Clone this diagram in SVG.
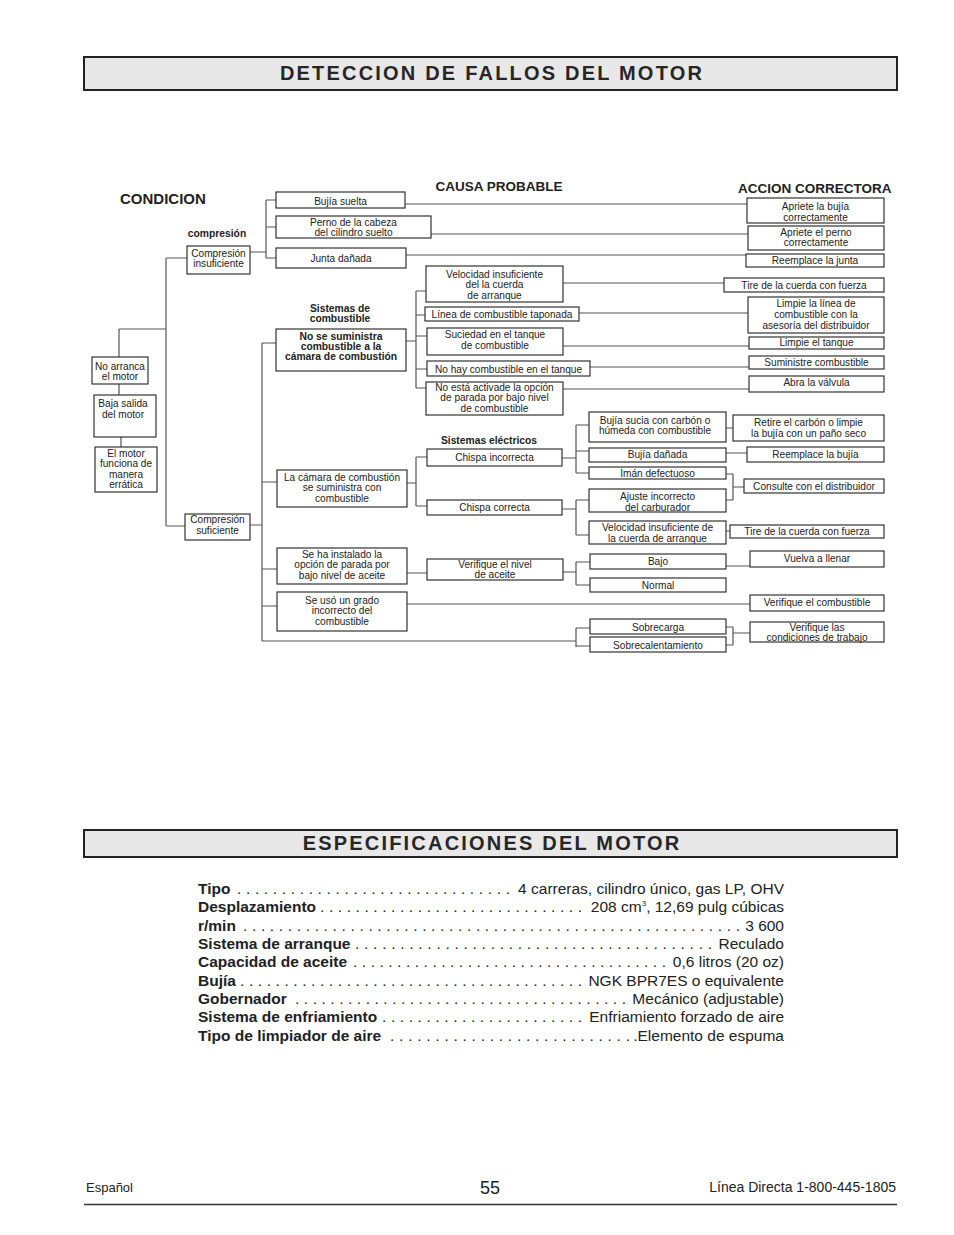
<svg xmlns="http://www.w3.org/2000/svg" width="954" height="1235" viewBox="0 0 954 1235">
<style>
.bx{fill:#fff;stroke:#333;stroke-width:1.2}
.t{font-family:"Liberation Sans",Arial,sans-serif;font-size:10.1px;fill:#222;text-anchor:middle}
.tb{font-family:"Liberation Sans",Arial,sans-serif;font-size:10.3px;font-weight:bold;fill:#222;text-anchor:middle}
.hd{font-family:"Liberation Sans",Arial,sans-serif;font-weight:bold;fill:#222}
.ttl{font-family:"Liberation Sans",Arial,sans-serif;font-size:20px;font-weight:bold;fill:#262626;text-anchor:middle;letter-spacing:2.2px}
.hbox{fill:#e8e8e8;stroke:#222;stroke-width:2}
.sl{font-family:"Liberation Sans",Arial,sans-serif;font-size:15.5px;font-weight:bold;fill:#222}
.sd{font-family:"Liberation Sans",Arial,sans-serif;font-size:15.5px;fill:#222}
.sv{font-family:"Liberation Sans",Arial,sans-serif;font-size:15.5px;fill:#222;text-anchor:end}
.ft{font-family:"Liberation Sans",Arial,sans-serif;fill:#222}
.cn{fill:none;stroke:#555;stroke-width:1.2}
</style>
<rect width="954" height="1235" fill="#fff"/>

<g id="header1">
<rect class="hbox" x="84" y="57" width="813" height="33"/>
<text class="ttl" x="492" y="80">DETECCION DE FALLOS DEL MOTOR</text>
</g>

<g id="column-heads">
<text class="hd" x="120" y="204" font-size="15">CONDICION</text>
<text class="hd" x="499" y="190.5" font-size="13.5" text-anchor="middle">CAUSA PROBABLE</text>
<text class="hd" x="738" y="192.5" font-size="13.5">ACCION CORRECTORA</text>
<text class="tb" x="217" y="236.5">compresión</text>
<text class="tb" x="340" y="311.5">Sistemas de</text>
<text class="tb" x="340" y="322">combustible</text>
<text class="tb" x="489" y="443.5">Sistemas eléctricos</text>
</g>

<g id="connectors" class="cn">
<path d="M166 258V526M166 258H187M166 526H185M119 329H166M119 329V357M119 384V395M121 437V447"/>
<path d="M250 252H266M266 200V258M266 200H276M266 227H276M266 258H276"/>
<path d="M405 204H747M431 234H748M406 255H746"/>
<path d="M250 525H262M262 343V641M262 343H276M262 482H277M262 569H277M262 606H277M262 641H576"/>
<path d="M406 341H416M416 291V388M416 291H426M416 315H425M416 336H427M416 369H427M416 388H426"/>
<path d="M563 283H724M579 313H748M563 346H749M590 367H749M563 389H749"/>
<path d="M407 483H416M416 457V506M416 457H427M416 506H427"/>
<path d="M562 458H576M576 425V473M576 425H589M576 451H589M576 473H589"/>
<path d="M726 428H733M726 453H747M726 474H733M726 500H733M733 474V500M733 487H744"/>
<path d="M562 509H576M576 500V535M576 500H589M576 535H589M726 531H730"/>
<path d="M407 573H427M563 572H576M576 562V585M576 562H590M576 585H590M726 566H750"/>
<path d="M407 604H750"/>
<path d="M576 628V647M576 628H590M576 646H590M726 627H733M726 645H733M733 627V645M733 633H750"/>
</g>

<g id="n-noarranca"><rect class="bx" x="92" y="357" width="56" height="27"/><text class="t" x="120" y="369.5">No arranca</text><text class="t" x="120" y="380">el motor</text></g>
<g id="n-bajasalida"><rect class="bx" x="94" y="395" width="62" height="42"/><text class="t" x="123" y="407">Baja salida</text><text class="t" x="123" y="417.5">del motor</text></g>
<g id="n-erratica"><rect class="bx" x="95" y="447" width="62" height="45"/><text class="t" x="126" y="456.5">El motor</text><text class="t" x="126" y="467">funciona de</text><text class="t" x="126" y="477.5">manera</text><text class="t" x="126" y="488">errática</text></g>
<g id="n-compinsuf"><rect class="bx" x="187" y="246" width="63" height="28"/><text class="t" x="218.5" y="256.5">Compresión</text><text class="t" x="218.5" y="267">insuficiente</text></g>
<g id="n-compsuf"><rect class="bx" x="185" y="514" width="65" height="26"/><text class="t" x="217.5" y="523">Compresión</text><text class="t" x="217.5" y="533.5">suficiente</text></g>

<g id="n-bujiasuelta"><rect class="bx" x="276" y="192" width="129" height="16"/><text class="t" x="340.5" y="204.5">Bujía suelta</text></g>
<g id="n-perno"><rect class="bx" x="276" y="216" width="155" height="22"/><text class="t" x="353.5" y="225.5">Perno de la cabeza</text><text class="t" x="353.5" y="235.5">del cilindro suelto</text></g>
<g id="n-junta"><rect class="bx" x="276" y="248" width="130" height="20"/><text class="t" x="341" y="261.5">Junta dañada</text></g>
<g id="n-nosumin"><rect class="bx" x="276" y="329" width="130" height="42"/><text class="tb" x="341" y="339.5">No se suministra</text><text class="tb" x="341" y="349.5">combustible a la</text><text class="tb" x="341" y="360">cámara de combustión</text></g>
<g id="n-lacamara"><rect class="bx" x="277" y="470" width="130" height="37"/><text class="t" x="342" y="480.5">La cámara de combustión</text><text class="t" x="342" y="491">se suministra con</text><text class="t" x="342" y="501.5">combustible</text></g>
<g id="n-sehainst"><rect class="bx" x="277" y="548" width="130" height="36"/><text class="t" x="342" y="557.5">Se ha instalado la</text><text class="t" x="342" y="568">opción de parada por</text><text class="t" x="342" y="578.5">bajo nivel de aceite</text></g>
<g id="n-seuso"><rect class="bx" x="277" y="592" width="130" height="39"/><text class="t" x="342" y="603.5">Se usó un grado</text><text class="t" x="342" y="614">incorrecto del</text><text class="t" x="342" y="624.5">combustible</text></g>

<g id="n-velocidad1"><rect class="bx" x="426" y="266" width="137" height="36"/><text class="t" x="494.5" y="277.5">Velocidad insuficiente</text><text class="t" x="494.5" y="288">del la cuerda</text><text class="t" x="494.5" y="298.5">de arranque</text></g>
<g id="n-linea"><rect class="bx" x="425" y="307" width="154" height="14"/><text class="t" x="502" y="317.5">Línea de combustible taponada</text></g>
<g id="n-suciedad"><rect class="bx" x="427" y="328" width="136" height="27"/><text class="t" x="495" y="338">Suciedad en el tanque</text><text class="t" x="495" y="348.5">de combustible</text></g>
<g id="n-nohay"><rect class="bx" x="427" y="361" width="163" height="15"/><text class="t" x="508.5" y="372.5">No hay combustible en el tanque</text></g>
<g id="n-noesta"><rect class="bx" x="426" y="382" width="137" height="33"/><text class="t" x="494.5" y="390.5">No está activade la opción</text><text class="t" x="494.5" y="401">de parada por bajo nivel</text><text class="t" x="494.5" y="411.5">de combustible</text></g>
<g id="n-chispainc"><rect class="bx" x="427" y="449" width="135" height="17"/><text class="t" x="494.5" y="461">Chispa incorrecta</text></g>
<g id="n-chispacor"><rect class="bx" x="427" y="500" width="135" height="15"/><text class="t" x="494.5" y="511">Chispa correcta</text></g>
<g id="n-verifnivel"><rect class="bx" x="427" y="559" width="136" height="21"/><text class="t" x="495" y="567.5">Verifique el nivel</text><text class="t" x="495" y="578">de aceite</text></g>

<g id="n-bujiasucia"><rect class="bx" x="589" y="412" width="137" height="30"/><text class="t" x="655" y="423.5">Bujía sucia con carbón o</text><text class="t" x="655" y="434">húmeda con combustible</text></g>
<g id="n-bujiadan"><rect class="bx" x="589" y="448" width="137" height="14"/><text class="t" x="657.5" y="457.5">Bujía dañada</text></g>
<g id="n-iman"><rect class="bx" x="589" y="467" width="137" height="12"/><text class="t" x="657.5" y="476.5">Imán defectuoso</text></g>
<g id="n-ajuste"><rect class="bx" x="589" y="489" width="137" height="23"/><text class="t" x="657.5" y="500">Ajuste incorrecto</text><text class="t" x="657.5" y="510.5">del carburador</text></g>
<g id="n-velocidad2"><rect class="bx" x="589" y="521" width="137" height="23"/><text class="t" x="657.5" y="531">Velocidad insuficiente de</text><text class="t" x="657.5" y="541.5">la cuerda de arranque</text></g>
<g id="n-bajo"><rect class="bx" x="590" y="554" width="136" height="15"/><text class="t" x="658" y="564.5">Bajo</text></g>
<g id="n-normal"><rect class="bx" x="590" y="578" width="136" height="14"/><text class="t" x="658" y="589">Normal</text></g>
<g id="n-sobrecarga"><rect class="bx" x="590" y="619" width="136" height="15"/><text class="t" x="658" y="631">Sobrecarga</text></g>
<g id="n-sobrecal"><rect class="bx" x="590" y="637" width="136" height="15"/><text class="t" x="658" y="649">Sobrecalentamiento</text></g>

<g id="a-aprbujia"><rect class="bx" x="747" y="198" width="137" height="25"/><text class="t" x="815.5" y="210">Apriete la bujía</text><text class="t" x="815.5" y="220.5">correctamente</text></g>
<g id="a-aprperno"><rect class="bx" x="748" y="226" width="136" height="24"/><text class="t" x="816" y="235.5">Apriete el perno</text><text class="t" x="816" y="246">correctamente</text></g>
<g id="a-reemjunta"><rect class="bx" x="746" y="254" width="138" height="13"/><text class="t" x="815" y="263.5">Reemplace la junta</text></g>
<g id="a-tire1"><rect class="bx" x="724" y="278" width="160" height="14"/><text class="t" x="804" y="288.5">Tire de la cuerda con fuerza</text></g>
<g id="a-limplinea"><rect class="bx" x="748" y="297" width="136" height="36"/><text class="t" x="816" y="306.5">Limpie la línea de</text><text class="t" x="816" y="317.5">combustible con la</text><text class="t" x="816" y="328.5">asesoría del distribuidor</text></g>
<g id="a-limptanque"><rect class="bx" x="749" y="337" width="135" height="12"/><text class="t" x="816.5" y="346">Limpie el tanque</text></g>
<g id="a-suministre"><rect class="bx" x="749" y="356" width="135" height="13"/><text class="t" x="816.5" y="365.5">Suministre combustible</text></g>
<g id="a-abra"><rect class="bx" x="749" y="376" width="135" height="16"/><text class="t" x="816.5" y="386">Abra la válvula</text></g>
<g id="a-retire"><rect class="bx" x="733" y="415" width="151" height="26"/><text class="t" x="808.5" y="426">Retire el carbón o limpie</text><text class="t" x="808.5" y="436.5">la bujía con un paño seco</text></g>
<g id="a-reembujia"><rect class="bx" x="747" y="447" width="137" height="15"/><text class="t" x="815.5" y="457.5">Reemplace la bujía</text></g>
<g id="a-consulte"><rect class="bx" x="744" y="479" width="140" height="14"/><text class="t" x="814" y="489.5">Consulte con el distribuidor</text></g>
<g id="a-tire2"><rect class="bx" x="730" y="525" width="154" height="13"/><text class="t" x="807" y="535">Tire de la cuerda con fuerza</text></g>
<g id="a-vuelva"><rect class="bx" x="750" y="551" width="134" height="16"/><text class="t" x="817" y="561.5">Vuelva a llenar</text></g>
<g id="a-verifcomb"><rect class="bx" x="750" y="595" width="134" height="16"/><text class="t" x="817" y="606">Verifique el combustible</text></g>
<g id="a-verifcond"><rect class="bx" x="750" y="622" width="134" height="20"/><text class="t" x="817" y="631">Verifique las</text><text class="t" x="817" y="641">condiciones de trabajo</text></g>

<g id="header2">
<rect class="hbox" x="84" y="830" width="813" height="27"/>
<text class="ttl" x="492" y="849.5">ESPECIFICACIONES DEL MOTOR</text>
</g>

<g id="specs">
<text class="sl" x="198" y="893.5">Tipo</text>
<text class="sd" x="237" y="893.5" textLength="273" lengthAdjust="spacing">. . . . . . . . . . . . . . . . . . . . . . . . . . . . . . .</text>
<text class="sv" x="784" y="893.5">4 carreras, cilindro único, gas LP, OHV</text>

<text class="sl" x="198" y="912">Desplazamiento</text>
<text class="sd" x="320" y="912" textLength="262" lengthAdjust="spacing">. . . . . . . . . . . . . . . . . . . . . . . . . . . . . .</text>
<text class="sv" x="784" y="912">208 cm<tspan font-size="8" dy="-6">3</tspan><tspan dy="6">, 12,69 pulg cúbicas</tspan></text>

<text class="sl" x="198" y="930.5">r/min</text>
<text class="sd" x="243" y="930.5" textLength="497" lengthAdjust="spacing">. . . . . . . . . . . . . . . . . . . . . . . . . . . . . . . . . . . . . . . . . . . . . . . . . . . . . . . .</text>
<text class="sv" x="784" y="930.5">3 600</text>

<text class="sl" x="198" y="948.5">Sistema de arranque</text>
<text class="sd" x="355" y="948.5" textLength="357" lengthAdjust="spacing">. . . . . . . . . . . . . . . . . . . . . . . . . . . . . . . . . . . . . . . .</text>
<text class="sv" x="784" y="948.5">Reculado</text>

<text class="sl" x="198" y="967">Capacidad de aceite</text>
<text class="sd" x="353" y="967" textLength="313" lengthAdjust="spacing">. . . . . . . . . . . . . . . . . . . . . . . . . . . . . . . . . . . .</text>
<text class="sv" x="784" y="967">0,6 litros (20 oz)</text>

<text class="sl" x="198" y="985.5">Bujía</text>
<text class="sd" x="240" y="985.5" textLength="342" lengthAdjust="spacing">. . . . . . . . . . . . . . . . . . . . . . . . . . . . . . . . . . . . . . .</text>
<text class="sv" x="784" y="985.5">NGK BPR7ES o equivalente</text>

<text class="sl" x="198" y="1003.5">Gobernador</text>
<text class="sd" x="295" y="1003.5" textLength="331" lengthAdjust="spacing">. . . . . . . . . . . . . . . . . . . . . . . . . . . . . . . . . . . . . .</text>
<text class="sv" x="784" y="1003.5">Mecánico (adjustable)</text>

<text class="sl" x="198" y="1022">Sistema de enfriamiento</text>
<text class="sd" x="382" y="1022" textLength="200" lengthAdjust="spacing">. . . . . . . . . . . . . . . . . . . . . . .</text>
<text class="sv" x="784" y="1022">Enfriamiento forzado de aire</text>

<text class="sl" x="198" y="1040.5">Tipo de limpiador de aire</text>
<text class="sd" x="390" y="1040.5" textLength="240" lengthAdjust="spacing">. . . . . . . . . . . . . . . . . . . . . . . . . . .</text>
<text class="sv" x="784" y="1040.5">.Elemento de espuma</text>
</g>

<g id="footer">
<text class="ft" x="86" y="1192" font-size="13">Español</text>
<text class="ft" x="490" y="1194" font-size="18" text-anchor="middle">55</text>
<text class="ft" x="896" y="1192" font-size="14" text-anchor="end">Línea Directa 1-800-445-1805</text>
<line x1="84" y1="1204.5" x2="897" y2="1204.5" stroke="#333" stroke-width="1.5"/>
</g>
</svg>
